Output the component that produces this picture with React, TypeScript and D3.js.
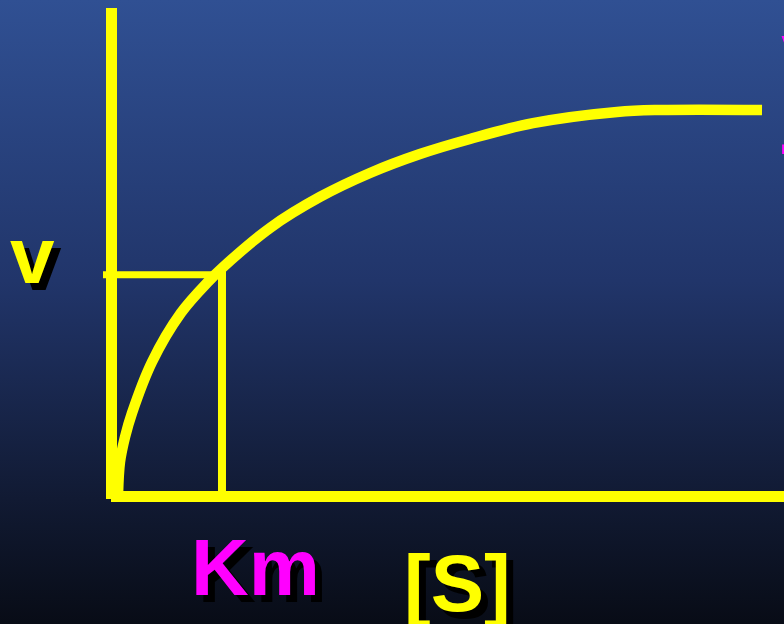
import React from "react";
import * as d3 from "d3";

// Substrate concentration [S] (arbitrary units) and velocity v (fraction of Vmax)
const curveS = [0.097, 0.126, 0.201, 0.305, 0.602, 1.033, 1.45, 1.643, 2.357, 3.1, 3.844, 4.587, 5.33, 6.267, 7.517, 8.156, 9.673];
const curveV = [0.006, 0.089, 0.154, 0.216, 0.348, 0.475, 0.558, 0.591, 0.695, 0.775, 0.837, 0.886, 0.925, 0.966, 0.995, 1.0, 1.0];
const kmS = 1.643;
const kmV = 0.574;
const labels = { v: "v", km: "Km", s: "[S]" };
const edgeLabels = ["V", "-", "("];

const W = 784;
const H = 624;

export default function App() {
  const x = d3.scaleLinear().domain([0, 10]).range([111.5, 784]);
  const y = d3.scaleLinear().domain([0, 1]).range([496.5, 110]);
  const pts: [number, number][] = curveS.map((s, i) => [s, curveV[i]]);
  const line = d3
    .line<[number, number]>()
    .x((d) => x(d[0]))
    .y((d) => y(d[1]))
    .curve(d3.curveCatmullRom.alpha(0.5));

  const font = "'Liberation Sans', Arial, sans-serif";
  const yellow = "#ffff00";
  const magenta = "#ff00ff";

  const Shadowed = ({ tx, ty, text, fill, size = 80 }: any) => (
    <g fontFamily={font} fontWeight="bold" fontSize={size}>
      <text x={tx + 7} y={ty + 7} fill="#000">{text}</text>
      <text x={tx} y={ty} fill={fill}>{text}</text>
    </g>
  );

  return (
    <svg
      width={W}
      height={H}
      style={{ position: "fixed", left: 0, top: 0, display: "block" }}
    >
      <defs>
        <linearGradient id="bg" x1="0" y1="0" x2="0" y2="1">
          <stop offset="0" stopColor="#305093" />
          <stop offset="0.45" stopColor="#21356a" />
          <stop offset="0.8" stopColor="#111a33" />
          <stop offset="1" stopColor="#080c16" />
        </linearGradient>
      </defs>
      <rect x={0} y={0} width={W} height={H} fill="url(#bg)" />

      {/* edge fragments of clipped text */}
      <g fontFamily={font} fontWeight="bold" fontSize={80} fill={magenta}>
        <text x={781} y={91}>{edgeLabels[0]}</text>
        <text x={779} y={170}>{edgeLabels[1]}</text>
        <text x={781} y={300} opacity={0.5}>{edgeLabels[2]}</text>
      </g>

      {/* axes */}
      <line x1={x(0)} x2={x(0)} y1={8} y2={499} stroke={yellow} strokeWidth={11} />
      <line x1={111} x2={W} y1={y(0)} y2={y(0)} stroke={yellow} strokeWidth={11} />

      {/* Km guide lines */}
      <line x1={103} x2={x(kmS) + 4} y1={y(kmV)} y2={y(kmV)} stroke={yellow} strokeWidth={7} />
      <line x1={x(kmS)} x2={x(kmS)} y1={y(kmV) - 3.5} y2={y(0)} stroke={yellow} strokeWidth={8} />

      {/* curve */}
      <path d={line(pts) || ""} fill="none" stroke={yellow} strokeWidth={10.5} />

      {/* labels */}
      <Shadowed tx={10} ty={283} text={labels.v} fill={yellow} size={80} />
      <Shadowed tx={191} ty={595} text={labels.km} fill={magenta} size={80} />
      <Shadowed tx={404} ty={611} text={labels.s} fill={yellow} size={80} />
    </svg>
  );
}
